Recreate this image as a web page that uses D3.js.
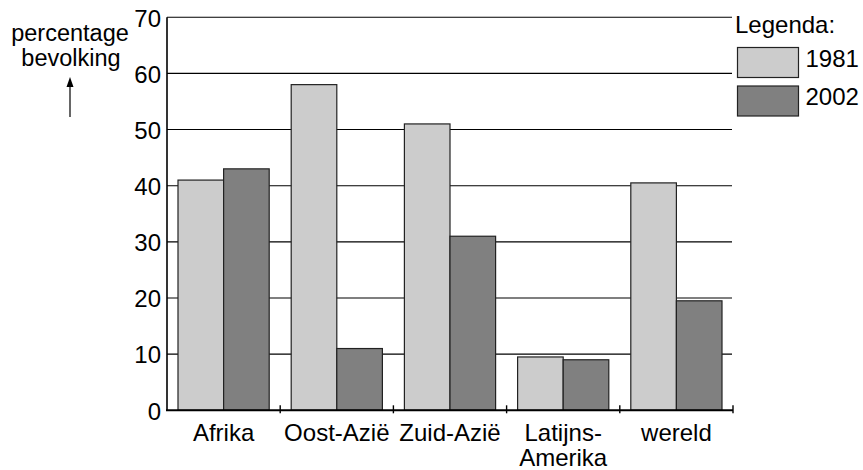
<!DOCTYPE html>
<html>
<head>
<meta charset="utf-8">
<script src="https://cdn.jsdelivr.net/npm/d3@7"></script>
<style>
html,body{margin:0;padding:0;background:#fff;}
text{font-family:"Liberation Sans",Arial,Helvetica,sans-serif;fill:#000;}
</style>
</head>
<body>
<svg id="chart" width="863" height="470"></svg>
<script>
const categories = ["Afrika", "Oost-Azië", "Zuid-Azië", "Latijns-\nAmerika", "wereld"];
const series = ["1981", "2002"];
const values1981 = [41, 58, 51, 9.5, 40.5];
const values2002 = [43, 11, 31, 9, 19.5];
const yTicks = [0, 10, 20, 30, 40, 50, 60, 70];
const yTitle = ["percentage", "bevolking"];
const colors = ["#cccccc", "#808080"];

const FS = 24;
const svg = d3.select("#chart");
const pLeft = 167, pRight = 733, pTop = 17.25, pBottom = 410.3;

const x = d3.scaleBand().domain(d3.range(categories.length)).range([pLeft, pRight]).paddingInner(0).paddingOuter(0);
const y = d3.scaleLinear().domain([0, 70]).range([pBottom, pTop]);
const inner = d3.scaleBand().domain(series).range([11, x.bandwidth() - 11]);

// gridlines
svg.append("g").selectAll("line").data(yTicks.filter(d => d > 0)).join("line")
  .attr("x1", pLeft).attr("x2", pRight - 1)
  .attr("y1", d => y(d)).attr("y2", d => y(d))
  .attr("stroke", "#000").attr("stroke-width", 1.1);

// bars
const data = categories.map((c, i) => ({i, vals: [values1981[i], values2002[i]]}));
const g = svg.append("g").selectAll("g").data(data).join("g")
  .attr("transform", d => `translate(${x(d.i)},0)`);
g.selectAll("rect").data(d => d.vals.map((v, k) => ({v, k}))).join("rect")
  .attr("x", d => inner(series[d.k]))
  .attr("width", inner.bandwidth())
  .attr("y", d => y(d.v))
  .attr("height", d => y(0) - y(d.v))
  .attr("fill", d => colors[d.k])
  .attr("stroke", "#222").attr("stroke-width", 1.2);

// y axis line
svg.append("line").attr("x1", pLeft).attr("x2", pLeft).attr("y1", pTop).attr("y2", pBottom)
  .attr("stroke", "#000").attr("stroke-width", 1.6);
// x axis line
svg.append("line").attr("x1", pLeft - 1).attr("x2", pRight).attr("y1", pBottom).attr("y2", pBottom)
  .attr("stroke", "#000").attr("stroke-width", 2);
// x ticks at category boundaries
const bounds = d3.range(1, categories.length + 1).map(i => pLeft + i * x.bandwidth());
svg.append("g").selectAll("line").data(bounds).join("line")
  .attr("x1", d => d).attr("x2", d => d)
  .attr("y1", pBottom - 5).attr("y2", pBottom + 3)
  .attr("stroke", "#000").attr("stroke-width", 1.4);

// y tick labels
svg.append("g").selectAll("text").data(yTicks).join("text")
  .attr("x", pLeft - 6).attr("y", d => y(d) + 3)
  .attr("text-anchor", "end").attr("dominant-baseline", "middle")
  .attr("font-size", FS).text(d => d);

// category labels
const cl = svg.append("g").selectAll("text").data(categories.map((c, i) => ({c, i}))).join("text")
  .attr("x", d => x(d.i) + x.bandwidth() / 2)
  .attr("y", 441)
  .attr("text-anchor", "middle").attr("font-size", FS);
cl.selectAll("tspan").data(d => d.c.split("\n").map((t, k) => ({t, k, x: x(d.i) + x.bandwidth() / 2})))
  .join("tspan").attr("x", d => d.x).attr("dy", d => d.k === 0 ? 0 : 25).text(d => d.t);

// y axis title
const yt = svg.append("text").attr("x", 70).attr("y", 41).attr("text-anchor", "middle").attr("font-size", 23.5);
yt.selectAll("tspan").data(yTitle).join("tspan")
  .attr("x", (d, i) => 70 + i).attr("dy", (d, i) => i === 0 ? 0 : 24.5).text(d => d);
svg.append("line").attr("x1", 70).attr("x2", 70).attr("y1", 84).attr("y2", 117).attr("stroke", "#000").attr("stroke-width", 1.2);
svg.append("path").attr("d", "M70,77 L66.5,87 L73.5,87 Z").attr("fill", "#000");

// legend
svg.append("text").attr("x", 735).attr("y", 33).attr("font-size", FS).text("Legenda:");
const lg = svg.append("g").selectAll("g").data(series).join("g")
  .attr("transform", (d, i) => `translate(737.5,${47.5 + i * 38.5})`);
lg.append("rect").attr("width", 61).attr("height", 30)
  .attr("fill", (d, i) => colors[i]).attr("stroke", "#222").attr("stroke-width", 1.2);
lg.append("text").attr("x", 68).attr("y", 13).attr("dominant-baseline", "middle")
  .attr("font-size", FS).text(d => d);
</script>
</body>
</html>
